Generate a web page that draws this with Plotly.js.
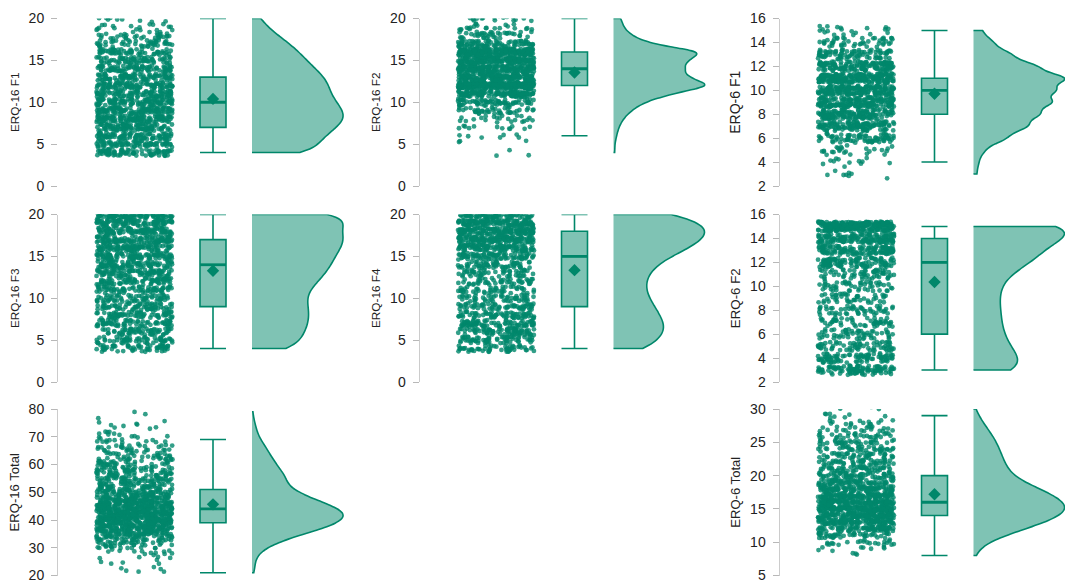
<!DOCTYPE html>
<html>
<head>
<meta charset="utf-8">
<script src="https://cdn.plot.ly/plotly-3.0.1.min.js"></script>
<style>
  html, body { margin: 0; padding: 0; background: #ffffff; }
  #chart { width: 1065px; height: 584px; }
</style>
</head>
<body>
<div id="chart"></div>
<script>
// ---------------- DATA (score value -> number of respondents) ----------------
const ERQ16_F1_SCORES = [4,5,6,7,8,9,10,11,12,13,14,15,16,17,18,19,20];
const ERQ16_F1_COUNTS = [80,80,90,104,116,112,104,96,95,89,78,67,58,46,32,18,12];

const ERQ16_F2_SCORES = [4,5,6,7,8,9,10,11,12,13,14,15,16,17,18,19,20];
const ERQ16_F2_COUNTS = [3,3,7,12,22,40,70,130,230,165,160,165,210,80,40,22,18];

const ERQ6_F1_SCORES = [3,4,5,6,7,8,9,10,11,12,13,14,15];
const ERQ6_F1_COUNTS = [8,12,25,75,125,150,180,185,215,145,85,45,20];

const ERQ16_F3_SCORES = [4,5,6,7,8,9,10,11,12,13,14,15,16,17,18,19,20];
const ERQ16_F3_COUNTS = [55,55,60,65,65,65,60,65,75,85,90,95,100,110,100,95,145];

const ERQ16_F4_SCORES = [4,5,6,7,8,9,10,11,12,13,14,15,16,17,18,19,20];
const ERQ16_F4_COUNTS = [55,65,75,75,65,60,50,45,45,50,60,80,110,130,140,130,110];

const ERQ6_F2_SCORES = [3,4,5,6,7,8,9,10,11,12,13,14,15];
const ERQ6_F2_COUNTS = [100,85,65,55,50,50,45,50,60,110,125,150,245];

const ERQ16_TOTAL_SCORES = [21,22,23,24,25,26,27,28,29,30,31,32,33,34,35,36,37,38,39,40,
  41,42,43,44,45,46,47,48,49,50,51,52,53,54,55,56,57,58,59,60,
  61,62,63,64,65,66,67,68,69,70,71,72,73,74,75,76,77,78,79];
const ERQ16_TOTAL_COUNTS = [2,2,2,2,2,3,3,5,7,10,13,18,23,30,36,44,50,56,61,63,
  66,66,65,61,57,51,46,41,36,32,28,26,24,24,24,23,22,20,18,17,
  16,15,13,12,11,10,9,7,6,5,4,3,3,3,2,1,1,1,1];

const ERQ6_TOTAL_SCORES = [8,9,10,11,12,13,14,15,16,17,18,19,20,21,22,23,24,25,26,27,28,29,30];
const ERQ6_TOTAL_COUNTS = [3,8,22,45,77,106,129,140,134,119,98,74,59,50,46,42,38,34,28,21,14,8,3];

const AXIS_TITLES = ['ERQ-16 F1','ERQ-16 F2','ERQ-6 F1','ERQ-16 F3','ERQ-16 F4','ERQ-6 F2','ERQ-16 Total','ERQ-6 Total'];

// ---------------- PANEL SETUP (layout / style only) ----------------
const PANELS = [
  {title: AXIS_TITLES[0], scores: ERQ16_F1_SCORES, counts: ERQ16_F1_COUNTS, row: 0, col: 0, range: [0,20], dtick: 5, showline: false, tsize: 11.8},
  {title: AXIS_TITLES[1], scores: ERQ16_F2_SCORES, counts: ERQ16_F2_COUNTS, row: 0, col: 1, range: [0,20], dtick: 5, showline: true, tsize: 11.8},
  {title: AXIS_TITLES[2], scores: ERQ6_F1_SCORES, counts: ERQ6_F1_COUNTS, row: 0, col: 2, range: [2,16], dtick: 2, showline: true, tsize: 14},
  {title: AXIS_TITLES[3], scores: ERQ16_F3_SCORES, counts: ERQ16_F3_COUNTS, row: 1, col: 0, range: [0,20], dtick: 5, showline: true, tsize: 11.8},
  {title: AXIS_TITLES[4], scores: ERQ16_F4_SCORES, counts: ERQ16_F4_COUNTS, row: 1, col: 1, range: [0,20], dtick: 5, showline: true, tsize: 11.8},
  {title: AXIS_TITLES[5], scores: ERQ6_F2_SCORES, counts: ERQ6_F2_COUNTS, row: 1, col: 2, range: [2,16], dtick: 2, showline: true, tsize: 13.3},
  {title: AXIS_TITLES[6], scores: ERQ16_TOTAL_SCORES, counts: ERQ16_TOTAL_COUNTS, row: 2, col: 0, range: [20,80], dtick: 10, showline: true, tsize: 13.1},
  {title: AXIS_TITLES[7], scores: ERQ6_TOTAL_SCORES, counts: ERQ6_TOTAL_COUNTS, row: 2, col: 2, range: [5,30], dtick: 5, showline: true, tsize: 13.1}
];

const W = 1065, H = 584;
const COL_LEFT = [58, 419.5, 779.5];          // pixel x of each column's y axis
const ROW_PIX = [[18.5, 186], [214.5, 382], [409, 575.5]]; // top/bottom pixel of y range
const PANEL_W = 300;

const PT_CENTER = 76.5, PT_HALF = 38, JIT_Y = 0.4;
const BOX_X = 155, BOX_W = 26;
const VIO_X = 194, VIO_W = 91;

const LINE_COL = '#00876a';
const FILL_COL = 'rgba(0,135,106,0.5)';
const PT_COL = '#00876b';

// deterministic jitter (display only): integer hash -> [0,1)
function jit(k, salt) {
  let h = (k * 2654435761 + salt * 374761393) >>> 0;
  h ^= h >>> 16; h = Math.imul(h, 0x85ebca6b) >>> 0;
  h ^= h >>> 13; h = Math.imul(h, 0xc2b2ae35) >>> 0;
  h ^= h >>> 16;
  return (h >>> 0) / 4294967296;
}
function interp(sorted, p) {
  let n = p * sorted.length - 0.5;
  if (n < 0) return sorted[0];
  if (n > sorted.length - 1) return sorted[sorted.length - 1];
  const fr = n % 1;
  return fr * sorted[Math.ceil(n)] + (1 - fr) * sorted[Math.floor(n)];
}

const traces = [];
const layout = {
  width: W, height: H,
  margin: {l: 0, r: 0, t: 0, b: 0},
  paper_bgcolor: '#ffffff', plot_bgcolor: '#ffffff',
  showlegend: false,
  font: {family: 'Liberation Sans, Arial, sans-serif', color: '#222222'}
};

PANELS.forEach((p, i) => {
  const sfx = i === 0 ? '' : String(i + 1);
  const xa = 'x' + sfx, ya = 'y' + sfx;
  // expand counts into observations
  const vals = [];
  p.scores.forEach((s, k) => { for (let c = 0; c < p.counts[k]; c++) vals.push(s); });
  const sorted = vals.slice().sort((a, b) => a - b);
  const n = vals.length;
  const mean = vals.reduce((a, b) => a + b, 0) / n;
  const sd = Math.sqrt(vals.reduce((a, b) => a + (b - mean) * (b - mean), 0) / (n - 1));
  const q1 = interp(sorted, 0.25), med = interp(sorted, 0.5), q3 = interp(sorted, 0.75);
  const bw = 0.9 * Math.min(sd, (q3 - q1) / 1.34) * Math.pow(n, -0.2);

  // jittered display positions
  const jx = [], jy = [];
  vals.forEach((v, k) => {
    jx.push(PT_CENTER + (jit(k + 1 + i * 5000, 1) * 2 - 1) * PT_HALF);
    jy.push(v + (jit(k + 1 + i * 5000, 2) * 2 - 1) * JIT_Y);
  });

  const xl = COL_LEFT[p.col];
  const xr = Math.min(W, xl + PANEL_W);
  const [top, bot] = ROW_PIX[p.row];
  layout['xaxis' + sfx] = {
    domain: [xl / W, xr / W], range: [0, xr - xl], visible: false,
    anchor: ya, fixedrange: true
  };
  layout['yaxis' + sfx] = {
    domain: [1 - bot / H, 1 - top / H], range: p.range, anchor: xa,
    dtick: p.dtick, tick0: 0, showgrid: false, zeroline: false,
    showline: p.showline, linecolor: '#cccccc', linewidth: 1,
    ticks: 'outside', ticklen: 6, tickcolor: '#b8b8b8', tickwidth: 1,
    ticklabelstandoff: 4, ticklabeloverflow: 'allow',
    tickfont: {size: 14, color: '#222222'},
    title: {text: p.title, font: {size: p.tsize, color: '#222222'}, standoff: 6},
    fixedrange: true
  };

  traces.push({
    type: 'scatter', mode: 'markers', x: jx, y: jy, xaxis: xa, yaxis: ya,
    marker: {size: 4.8, color: PT_COL, opacity: 0.8}, hoverinfo: 'skip'
  });
  traces.push({
    type: 'box', y: vals, x0: BOX_X, width: BOX_W, xaxis: xa, yaxis: ya,
    boxpoints: 'outliers', marker: {opacity: 0, size: 1},
    whiskerwidth: 1, fillcolor: FILL_COL, line: {color: LINE_COL, width: 1.6},
    hoverinfo: 'skip'
  });
  traces.push({
    type: 'scatter', mode: 'lines', x: [BOX_X - BOX_W / 2, BOX_X + BOX_W / 2], y: [med, med],
    xaxis: xa, yaxis: ya, line: {color: LINE_COL, width: 2.8}, hoverinfo: 'skip'
  });
  traces.push({
    type: 'scatter', mode: 'markers', x: [BOX_X], y: [mean], xaxis: xa, yaxis: ya,
    marker: {symbol: 'diamond', size: 9.5, color: LINE_COL}, hoverinfo: 'skip'
  });
  traces.push({
    type: 'violin', y: vals, x0: VIO_X, width: VIO_W * 2, side: 'positive',
    xaxis: xa, yaxis: ya, spanmode: 'hard', bandwidth: bw, scalemode: 'width',
    points: false, box: {visible: false}, meanline: {visible: false},
    fillcolor: FILL_COL, line: {color: LINE_COL, width: 1.6}, hoverinfo: 'skip'
  });
});

Plotly.newPlot('chart', traces, layout, {staticPlot: true, displayModeBar: false});
</script>
</body>
</html>
